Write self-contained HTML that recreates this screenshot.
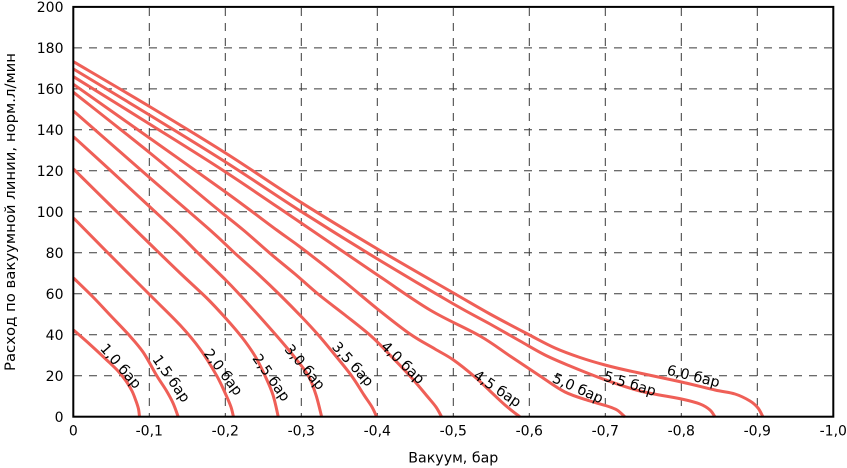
<!DOCTYPE html>
<html><head><meta charset="utf-8"><style>
html,body{margin:0;padding:0;background:#fff;}
svg{display:block;}
text{font-family:"DejaVu Sans","Liberation Sans",sans-serif;fill:#000;}
</style></head><body>
<svg id="chart" width="847" height="468" viewBox="0 0 847 468" xmlns="http://www.w3.org/2000/svg">
<rect x="0" y="0" width="847" height="468" fill="#fff"/>
<g stroke="#3a3a3a" stroke-width="1" stroke-dasharray="8 7" fill="none">
<line x1="74" y1="375.7" x2="833" y2="375.7"/>
<line x1="74" y1="334.7" x2="833" y2="334.7"/>
<line x1="74" y1="293.8" x2="833" y2="293.8"/>
<line x1="74" y1="252.8" x2="833" y2="252.8"/>
<line x1="74" y1="211.8" x2="833" y2="211.8"/>
<line x1="74" y1="170.8" x2="833" y2="170.8"/>
<line x1="74" y1="129.8" x2="833" y2="129.8"/>
<line x1="74" y1="88.9" x2="833" y2="88.9"/>
<line x1="74" y1="47.9" x2="833" y2="47.9"/>
<line x1="149.3" y1="8" x2="149.3" y2="416"/>
<line x1="225.3" y1="8" x2="225.3" y2="416"/>
<line x1="301.3" y1="8" x2="301.3" y2="416"/>
<line x1="377.3" y1="8" x2="377.3" y2="416"/>
<line x1="453.3" y1="8" x2="453.3" y2="416"/>
<line x1="529.3" y1="8" x2="529.3" y2="416"/>
<line x1="605.3" y1="8" x2="605.3" y2="416"/>
<line x1="681.3" y1="8" x2="681.3" y2="416"/>
<line x1="757.3" y1="8" x2="757.3" y2="416"/>
</g>
<g id="curves" stroke="#ef5f57" stroke-width="3" fill="none" stroke-linejoin="round">
<polyline class="c" points="73.5,330 90,344.5 106.7,360 118,371 126,381 132,391 136,401 138.5,409 139.5,417"/>
<polyline class="c" points="73.5,278 93,297 110,315 128.3,334.3 143,352 156.7,375.6 166,390 173,403 178.3,417"/>
<polyline class="c" points="73.5,218 110,255 150,295 180,325 200,349 216.7,375.7 226,395 231,407 233.5,417"/>
<polyline class="c" points="73.5,169 110,205 150,244 180,273 206.7,298 225.5,318 241.7,337 255,356 265,375.7 273,395 278.3,417"/>
<polyline class="c" points="73.5,136.7 110,170 150,207 180,235 198.3,253.3 225.7,280 240,295 260,317 282,342 296,359 308.5,376 316,395 321.7,417"/>
<polyline class="c" points="73.5,111 110,143 150,178 210,230 235,253.3 258,274 280,295 301.7,317 318.3,335 335,355 351.7,376 364,395 372,407 376.7,417"/>
<polyline class="c" points="73.5,92.3 150,153 210,203 243.3,230 270,253.3 295,274 318,294 345,315 371,336 390,355 410,376 427,396 436,407 441.7,417"/>
<polyline class="c" points="73.5,84.3 149.5,138 225.5,192 276.7,230 301.5,248 340,278 377.5,309 410,334 435,349 453.5,360 475,377 490,391 505,405 520,417"/>
<polyline class="c" points="73.5,76.7 149.5,124 225.5,172 301.5,223.3 377.5,275 430,310 480,336 510,356 540,376 565,392 590,401 607,406 617,410 625,417"/>
<polyline class="c" points="73.5,69 149.5,115 225.5,162 301.5,211.7 377.5,259 453.5,304 490,324 520,341 545,355 570,366 603,379 640,391 681.5,399 700,404 710,410 715,417"/>
<polyline class="c" points="73.5,61.7 149.5,106.5 225.5,153 301.5,202.7 377.5,249 453.5,293 490,314 529.5,335 555,348 580,357.5 605,365 630,371 681.5,382 715,390 735,394 750,401 758,408 763,417"/>
</g>
<g font-size="14.3" text-anchor="middle">
<text transform="translate(121,366) rotate(49)" y="5">1,0 бар</text>
<text transform="translate(171.5,378.5) rotate(55)" y="5">1,5 бар</text>
<text transform="translate(223.5,372) rotate(53)" y="5">2,0 бар</text>
<text transform="translate(271.5,377.5) rotate(55)" y="5">2,5 бар</text>
<text transform="translate(305,367) rotate(50)" y="5">3,0 бар</text>
<text transform="translate(353,364) rotate(48)" y="5">3,5 бар</text>
<text transform="translate(403,362.5) rotate(44)" y="5">4,0 бар</text>
<text transform="translate(497.5,388.5) rotate(34)" y="5">4,5 бар</text>
<text transform="translate(578,388) rotate(24)" y="5">5,0 бар</text>
<text transform="translate(630,383.5) rotate(17)" y="5">5,5 бар</text>
<text transform="translate(693.5,376) rotate(14)" y="5">6,0 бар</text>
</g>
<rect x="73.3" y="6.9" width="760" height="409.8" fill="none" stroke="#000" stroke-width="2"/>
<g font-size="14" text-anchor="end">
<text x="63.5" y="12">200</text>
<text x="63.5" y="53">180</text>
<text x="63.5" y="94">160</text>
<text x="63.5" y="135">140</text>
<text x="63.5" y="176">120</text>
<text x="63.5" y="217">100</text>
<text x="63.5" y="258">80</text>
<text x="63.5" y="299">60</text>
<text x="63.5" y="340">40</text>
<text x="63.5" y="381">20</text>
<text x="63.5" y="422">0</text>
</g>
<g font-size="14" text-anchor="middle">
<text x="73.3" y="435.5">0</text>
<text x="149.3" y="435.5">-0,1</text>
<text x="225.3" y="435.5">-0,2</text>
<text x="301.3" y="435.5">-0,3</text>
<text x="377.3" y="435.5">-0,4</text>
<text x="453.3" y="435.5">-0,5</text>
<text x="529.3" y="435.5">-0,6</text>
<text x="605.3" y="435.5">-0,7</text>
<text x="681.3" y="435.5">-0,8</text>
<text x="757.3" y="435.5">-0,9</text>
<text x="833.3" y="435.5">-1,0</text>
</g>
<text x="453.3" y="462.5" font-size="14" text-anchor="middle" textLength="90" lengthAdjust="spacingAndGlyphs">Вакуум, бар</text>
<text transform="translate(15,212) rotate(-90)" x="0" y="0" font-size="14" text-anchor="middle" textLength="318" lengthAdjust="spacingAndGlyphs">Расход по вакуумной линии, норм.л/мин</text>
</svg>
<script>
(function(){
  var NS="http://www.w3.org/2000/svg";
  var pls=document.querySelectorAll("polyline.c");
  for(var k=0;k<pls.length;k++){
    var pl=pls[k];
    var raw=pl.getAttribute("points").trim().split(/\s+/);
    var p=raw.map(function(s){var a=s.split(",");return [parseFloat(a[0]),parseFloat(a[1])];});
    var d="M"+p[0][0]+","+p[0][1];
    for(var i=0;i<p.length-1;i++){
      var p0=p[i>0?i-1:i],p1=p[i],p2=p[i+1],p3=p[i+2<p.length?i+2:i+1];
      var c1x=p1[0]+(p2[0]-p0[0])/6,c1y=p1[1]+(p2[1]-p0[1])/6;
      var c2x=p2[0]-(p3[0]-p1[0])/6,c2y=p2[1]-(p3[1]-p1[1])/6;
      d+=" C"+c1x.toFixed(2)+","+c1y.toFixed(2)+" "+c2x.toFixed(2)+","+c2y.toFixed(2)+" "+p2[0]+","+p2[1];
    }
    var path=document.createElementNS(NS,"path");
    path.setAttribute("d",d);
    pl.parentNode.replaceChild(path,pl);
  }
})();
</script>
</body></html>
